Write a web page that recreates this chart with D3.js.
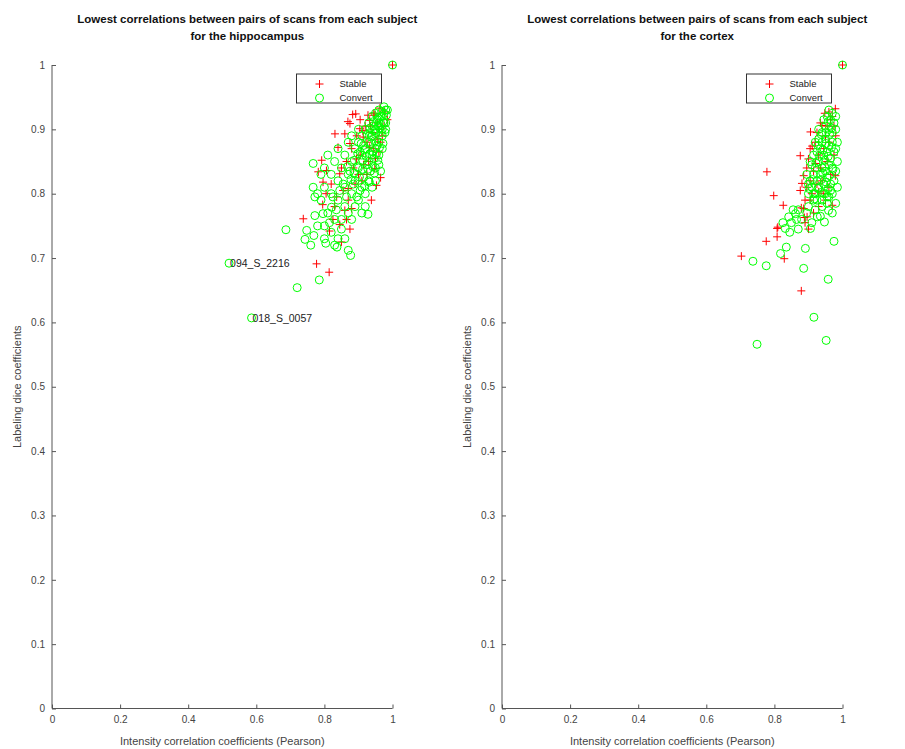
<!DOCTYPE html>
<html>
<head>
<meta charset="utf-8">
<script src="https://cdn.jsdelivr.net/npm/d3@7"></script>
<style>
  body { margin: 0; background: #fff; }
  svg { font-family: "Liberation Sans", Arial, sans-serif; }
  .axis path, .axis line { stroke: #555; }
  .axis text { fill: #444; font-size: 10px; }
</style>
</head>
<body>
<svg width="905" height="749"></svg>
<script>
// tick values shared by both panels
var ticks = [0, 0.1, 0.2, 0.3, 0.4, 0.5, 0.6, 0.7, 0.8, 0.9, 1];
var xTicks = [0, 0.2, 0.4, 0.6, 0.8, 1];
var seriesNames = ["Stable", "Convert"];

// hippocampus: [pearson, dice]
var hippoStable = [[1.0,1.0],
  [0.892,0.924],[0.875,0.909],[0.928,0.922],[0.831,0.893],[0.860,0.893],[0.840,0.872],[0.875,0.878],
  [0.792,0.852],[0.782,0.834],[0.806,0.836],[0.796,0.818],[0.845,0.831],[0.870,0.808],[0.953,0.813],
  [0.948,0.839],[0.938,0.790],[0.836,0.795],[0.860,0.774],[0.880,0.777],[0.738,0.761],[0.904,0.901],
  [0.914,0.888],[0.933,0.872],[0.894,0.854],[0.777,0.691],[0.814,0.678],[0.845,0.752],[0.865,0.760],
  [0.795,0.783],[0.869,0.912],[0.883,0.923],[0.913,0.898],[0.933,0.914],[0.948,0.922],[0.963,0.933],
  [0.977,0.927],[0.920,0.905],[0.940,0.895],[0.955,0.910],[0.960,0.900],[0.925,0.880],[0.945,0.870],
  [0.905,0.860],[0.915,0.845],[0.930,0.850],[0.950,0.855],[0.965,0.880],[0.970,0.890],[0.955,0.885],
  [0.900,0.830],[0.885,0.840],[0.910,0.820],[0.925,0.830],[0.890,0.815],[0.855,0.805],[0.870,0.790],
  [0.825,0.760],[0.815,0.742],[0.850,0.725],[0.875,0.745],[0.960,0.865],[0.935,0.905],[0.945,0.925],
  [0.905,0.915],[0.895,0.890],[0.880,0.870],[0.865,0.850],[0.850,0.840],[0.820,0.815],[0.805,0.800],
  [0.830,0.780],[0.965,0.825],[0.975,0.905],[0.985,0.915]];

var hippoConvert = [[1.0,1.0],
  [0.520,0.692],[0.586,0.607],[0.720,0.654],[0.687,0.744],[0.743,0.729],[0.769,0.735],[0.748,0.743],
  [0.804,0.723],[0.837,0.717],[0.870,0.712],[0.877,0.704],[0.785,0.666],[0.772,0.766],[0.928,0.768],
  [0.767,0.847],[0.767,0.810],[0.772,0.795],[0.796,0.769],[0.821,0.779],
  [0.80,0.75],[0.82,0.74],[0.84,0.73],[0.85,0.745],[0.83,0.76],[0.81,0.77],[0.79,0.79],[0.78,0.80],
  [0.80,0.81],[0.82,0.80],[0.84,0.79],[0.86,0.78],[0.85,0.76],[0.87,0.77],[0.88,0.76],[0.89,0.78],
  [0.90,0.79],[0.88,0.80],[0.86,0.81],[0.84,0.82],[0.82,0.83],[0.80,0.84],[0.79,0.83],[0.81,0.86],
  [0.83,0.85],[0.85,0.84],[0.87,0.83],[0.89,0.82],[0.91,0.81],[0.92,0.80],[0.93,0.82],[0.90,0.84],
  [0.88,0.85],[0.86,0.86],[0.84,0.87],[0.87,0.88],[0.89,0.87],[0.91,0.86],[0.93,0.85],[0.95,0.84],
  [0.94,0.86],[0.92,0.87],[0.90,0.88],[0.88,0.89],[0.91,0.89],[0.93,0.88],[0.95,0.87],[0.96,0.86],
  [0.97,0.87],[0.96,0.88],[0.94,0.89],[0.92,0.90],[0.90,0.90],[0.93,0.91],[0.95,0.90],[0.97,0.89],
  [0.98,0.90],[0.96,0.91],[0.94,0.92],[0.97,0.92],[0.98,0.93],[0.96,0.93],[0.95,0.925],[0.975,0.91],
  [0.965,0.895],[0.955,0.875],[0.945,0.855],[0.935,0.835],[0.925,0.845],[0.915,0.825],[0.905,0.805],
  [0.895,0.795],[0.885,0.815],[0.875,0.835],[0.865,0.795],[0.855,0.815],[0.845,0.805],[0.835,0.775],
  [0.825,0.795],[0.815,0.755],[0.905,0.865],[0.915,0.875],[0.935,0.895],[0.945,0.905],[0.955,0.915],
  [0.965,0.92],[0.975,0.925],[0.985,0.93],[0.98,0.91],[0.97,0.90],[0.96,0.845],[0.965,0.835],
  [0.95,0.82],[0.94,0.81],[0.92,0.78],[0.91,0.77],[0.86,0.73],[0.83,0.72],[0.80,0.73],[0.78,0.75],
  [0.76,0.72],
  [0.952,0.895],[0.962,0.902],[0.972,0.912],[0.958,0.918],[0.968,0.928],[0.944,0.912],[0.934,0.902],
  [0.926,0.892],[0.938,0.878],[0.948,0.882],[0.962,0.872],[0.972,0.878],[0.978,0.895],[0.953,0.862],
  [0.943,0.865],[0.933,0.862],[0.923,0.858],[0.913,0.852],[0.928,0.838],[0.942,0.842],[0.957,0.852],
  [0.918,0.868],[0.908,0.878],[0.898,0.862],[0.888,0.852],[0.898,0.842],[0.912,0.838],[0.903,0.826],
  [0.918,0.812],[0.932,0.818],[0.947,0.832],[0.887,0.832],[0.878,0.822],[0.868,0.842],[0.958,0.905],
  [0.948,0.898],[0.938,0.888],[0.966,0.908],[0.982,0.922],[0.975,0.935]];

// labelled subjects in the hippocampus panel
var hippoLabels = [
  {name: "094_S_2216", x: 0.520, y: 0.692},
  {name: "018_S_0057", x: 0.586, y: 0.607}
];

// cortex: [pearson, dice]
var cortexStable = [[1.0,1.0],
  [0.778,0.834],[0.798,0.797],[0.826,0.782],[0.808,0.746],[0.876,0.859],[0.886,0.828],[0.881,0.816],
  [0.876,0.805],[0.911,0.874],[0.921,0.847],[0.940,0.906],[0.960,0.927],[0.979,0.932],[0.970,0.782],
  [0.886,0.777],[0.896,0.764],[0.930,0.803],[0.979,0.828],[0.906,0.896],[0.900,0.854],[0.879,0.778],
  [0.888,0.763],[0.810,0.748],[0.808,0.733],[0.776,0.726],[0.703,0.703],[0.829,0.699],[0.879,0.649],
  [0.92,0.88],[0.93,0.86],[0.915,0.835],[0.905,0.82],[0.895,0.81],[0.91,0.80],[0.925,0.815],
  [0.935,0.84],[0.945,0.87],[0.95,0.89],[0.955,0.905],[0.965,0.915],[0.97,0.92],[0.96,0.88],
  [0.955,0.85],[0.965,0.83],[0.975,0.86],[0.98,0.89],[0.975,0.905],[0.94,0.82],[0.945,0.80],
  [0.95,0.79],[0.96,0.81],[0.93,0.78],[0.915,0.77],[0.905,0.79],[0.89,0.79],[0.895,0.84],
  [0.905,0.87],[0.925,0.895],[0.935,0.91],[0.948,0.925],[0.89,0.755],[0.90,0.745]];

var cortexConvert = [[1.0,1.0],
  [0.737,0.695],[0.776,0.688],[0.886,0.684],[0.958,0.667],[0.818,0.707],[0.835,0.717],[0.891,0.715],
  [0.975,0.726],[0.916,0.608],[0.952,0.572],[0.749,0.566],[0.842,0.764],[0.832,0.746],[0.947,0.756],
  [0.862,0.769],[0.906,0.746],[0.926,0.764],[0.959,0.774],
  [0.85,0.755],[0.87,0.745],[0.88,0.76],[0.895,0.77],[0.91,0.755],[0.92,0.775],[0.935,0.765],
  [0.94,0.78],[0.955,0.785],[0.87,0.775],[0.855,0.775],[0.90,0.78],[0.915,0.79],[0.825,0.755],
  [0.845,0.74],[0.865,0.76],
  [0.90,0.80],[0.91,0.81],[0.92,0.80],[0.93,0.81],[0.94,0.79],[0.95,0.80],[0.96,0.795],[0.97,0.80],
  [0.905,0.82],[0.915,0.83],[0.925,0.82],[0.935,0.83],[0.945,0.815],[0.955,0.825],[0.965,0.815],
  [0.975,0.82],[0.91,0.845],[0.92,0.84],[0.93,0.85],[0.94,0.84],[0.95,0.835],[0.96,0.845],
  [0.97,0.84],[0.98,0.835],[0.915,0.86],[0.925,0.865],[0.935,0.87],[0.945,0.86],[0.955,0.865],
  [0.965,0.855],[0.975,0.865],[0.92,0.88],[0.93,0.885],[0.94,0.88],[0.95,0.885],[0.96,0.875],
  [0.97,0.88],[0.98,0.87],[0.93,0.90],[0.94,0.895],[0.95,0.905],[0.96,0.90],[0.97,0.895],
  [0.98,0.90],[0.945,0.915],[0.955,0.92],[0.965,0.915],[0.975,0.91],[0.96,0.93],[0.97,0.925],
  [0.98,0.92],[0.985,0.88],[0.985,0.85],[0.985,0.81],[0.895,0.83],[0.905,0.85],[0.915,0.80],
  [0.90,0.815],[0.925,0.79],[0.945,0.80],[0.98,0.785],[0.97,0.77],
  [0.928,0.808],[0.938,0.822],[0.948,0.842],[0.958,0.858],[0.968,0.872],[0.952,0.878],[0.942,0.868],
  [0.932,0.858],[0.922,0.848],[0.912,0.822],[0.902,0.808],[0.918,0.792],[0.938,0.802],[0.958,0.808],
  [0.962,0.828],[0.952,0.818],[0.942,0.832],[0.948,0.852],[0.962,0.892],[0.958,0.912],[0.968,0.902],
  [0.952,0.895],[0.938,0.892],[0.928,0.875],[0.972,0.838],[0.965,0.805],[0.955,0.795]];

var svg = d3.select("svg");
var red = "#ff0000", green = "#00ff00";

var panels = [
  {left: 52, title2: "for the hippocampus", stable: hippoStable, convert: hippoConvert, labels: hippoLabels},
  {left: 502, title2: "for the cortex", stable: cortexStable, convert: cortexConvert, labels: []}
];

var plotW = 340.5;
var plotTop = 65, plotBottom = 708.5;

var y = d3.scaleLinear().domain([0, 1]).range([plotBottom, plotTop]);

panels.forEach(function(p) {
  var x = d3.scaleLinear().domain([0, 1]).range([p.left, p.left + plotW]);
  var g = svg.append("g");

  // axes, ticks pointing inward, no box
  g.append("g")
    .attr("class", "axis")
    .attr("transform", "translate(0," + plotBottom + ")")
    .call(d3.axisBottom(x).tickValues(xTicks).tickSizeInner(-4).tickSizeOuter(0).tickPadding(7)
      .tickFormat(d3.format("~g")))
    .call(function(a) { a.select(".domain").attr("d", "M" + x(0) + ",0H" + x(1)); });

  g.append("g")
    .attr("class", "axis")
    .attr("transform", "translate(" + p.left + ",0)")
    .call(d3.axisLeft(y).tickValues(ticks).tickSizeInner(-4).tickSizeOuter(0).tickPadding(7)
      .tickFormat(d3.format("~g")))
    .call(function(a) { a.select(".domain").attr("d", "M0," + y(0) + "V" + y(1)); });

  // stable first, convert on top
  g.append("g").selectAll("path")
    .data(p.stable)
    .enter().append("path")
      .attr("d", function(d) { var px = x(d[0]), py = y(d[1]);
        return "M" + (px - 4) + "," + py + "H" + (px + 4) + "M" + px + "," + (py - 4) + "V" + (py + 4); })
      .attr("stroke", red)
      .attr("stroke-width", 1)
      .attr("fill", "none");

  g.append("g").selectAll("circle")
    .data(p.convert)
    .enter().append("circle")
      .attr("cx", function(d) { return x(d[0]); })
      .attr("cy", function(d) { return y(d[1]); })
      .attr("r", 4)
      .attr("stroke", green)
      .attr("stroke-width", 1)
      .attr("fill", "none");

  g.selectAll("text.lbl")
    .data(p.labels)
    .enter().append("text")
      .attr("class", "lbl")
      .attr("x", function(d) { return x(d.x) + 1; })
      .attr("y", function(d) { return y(d.y); })
      .attr("dy", "0.35em")
      .attr("font-size", 10.5)
      .attr("fill", "#222")
      .text(function(d) { return d.name; });

  // titles and labels
  var cx = p.left + plotW / 2;
  g.append("text")
    .attr("x", cx + 25).attr("y", 23)
    .attr("text-anchor", "middle").attr("font-weight", "bold").attr("font-size", 11.5).attr("fill", "#111")
    .text("Lowest correlations between pairs of scans from each subject");
  g.append("text")
    .attr("x", cx + 25).attr("y", 40)
    .attr("text-anchor", "middle").attr("font-weight", "bold").attr("font-size", 11.5).attr("fill", "#111")
    .text(p.title2);

  g.append("text")
    .attr("x", cx).attr("y", 745)
    .attr("text-anchor", "middle").attr("font-size", 11).attr("fill", "#444")
    .text("Intensity correlation coefficients (Pearson)");

  g.append("text")
    .attr("transform", "translate(" + (p.left - 31) + "," + ((plotTop + plotBottom) / 2) + ") rotate(-90)")
    .attr("text-anchor", "middle").attr("font-size", 11).attr("fill", "#444")
    .text("Labeling dice coefficients");

  // legend
  var lx = p.left + 244.5, ly = 74;
  var legend = g.append("g").attr("transform", "translate(" + lx + "," + ly + ")");
  legend.append("rect")
    .attr("width", 85).attr("height", 29)
    .attr("fill", "#fff").attr("stroke", "#333").attr("stroke-width", 1);
  var items = legend.selectAll("g")
    .data(seriesNames)
    .enter().append("g")
      .attr("transform", function(d, i) { return "translate(0," + (10 + i * 14) + ")"; });
  items.filter(function(d, i) { return i === 0; }).append("path")
    .attr("d", "M19,0H27M23,-4V4").attr("stroke", red).attr("fill", "none");
  items.filter(function(d, i) { return i === 1; }).append("circle")
    .attr("cx", 23).attr("r", 4).attr("stroke", green).attr("fill", "none");
  items.append("text")
    .attr("x", 43).attr("dy", "0.35em")
    .attr("font-size", 9.5).attr("fill", "#222")
    .text(function(d) { return d; });
});
</script>
</body>
</html>
